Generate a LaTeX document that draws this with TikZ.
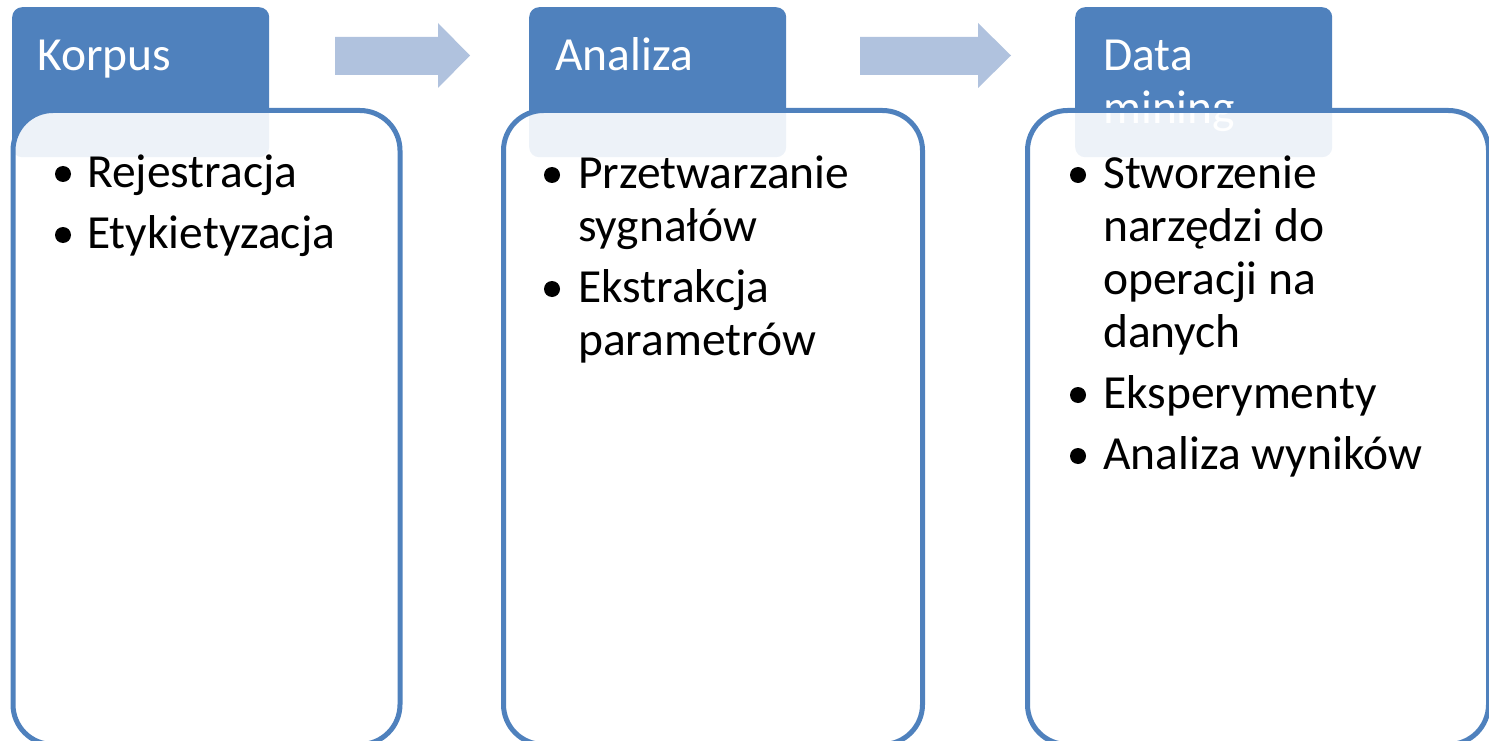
\documentclass[tikz,border=0pt]{standalone}
\usepackage{fontspec}
\setmainfont{Carlito}
\definecolor{accent}{HTML}{4F81BD}
\definecolor{flowarrow}{HTML}{B0C2DE}
\begin{document}
\begin{tikzpicture}[x=1pt,y=-1pt,
  header/.style={fill=accent, rounded corners=10pt, minimum height=150pt,
    minimum width=257pt, anchor=north west, inner sep=0pt},
  panel/.style={draw=accent, line width=5pt, fill=white, fill opacity=0.9,
    rounded corners=40pt, anchor=north west, inner sep=0pt},
  htext/.style={text=white, anchor=base west, inner sep=0pt,
    font=\fontsize{47.5}{53}\selectfont},
  item/.style={text=black, anchor=base west, inner sep=0pt,
    font=\fontsize{47.5}{53}\selectfont},
  dot/.style={circle, fill=black, inner sep=0pt, minimum size=16pt},
  flow/.style={fill=flowarrow}]
\useasboundingbox (0,0) rectangle (1489,741);

% flow arrows between the stages
\fill[flow] (335,37) -- (438,37) -- (438,23) -- (470,55.5) -- (438,88) -- (438,75) -- (335,75) -- cycle;
\fill[flow] (860,37) -- (978,37) -- (978,23) -- (1011,55.5) -- (978,88) -- (978,75) -- (860,75) -- cycle;

% stage headers
\node[header] (h1) at (12,7) {};
\node[header] (h2) at (529,7) {};
\node[header] (h3) at (1075,7) {};
\node[htext] (t1) at (37,71) {Korpus};
\node[htext] (t2) at (555,71) {Analiza};
\node[htext] (t3a) at (1103,71) {Data};
\node[htext] (t3b) at (1103,124) {mining};

% stage panels, laid over the lower part of the headers
\node[panel, minimum width=387pt, minimum height=634pt] (b1) at (10.5,108) {};
\node[panel, minimum width=419pt, minimum height=634pt] (b2) at (501,108) {};
\node[panel, minimum width=461pt, minimum height=634pt] (b3) at (1025,108) {};

% Korpus items
\node[dot] (d11) at (63,174) {};
\node[item] (i11) at (87,187) {Rejestracja};
\node[dot] (d12) at (63,235) {};
\node[item] (i12) at (87,248) {Etykietyzacja};

% Analiza items
\node[dot] (d21) at (552,175) {};
\node[item] (i21a) at (578,188) {Przetwarzanie};
\node[item] (i21b) at (578,241) {sygnałów};
\node[dot] (d22) at (552,289) {};
\node[item] (i22a) at (578,302) {Ekstrakcja};
\node[item] (i22b) at (578,355) {parametrów};

% Data mining items
\node[dot] (d31) at (1078,175) {};
\node[item] (i31a) at (1103,188) {Stworzenie};
\node[item] (i31b) at (1103,241) {narzędzi do};
\node[item] (i31c) at (1103,294) {operacji na};
\node[item] (i31d) at (1103,347) {danych};
\node[dot] (d32) at (1078,395) {};
\node[item] (i32) at (1103,408) {Eksperymenty};
\node[dot] (d33) at (1078,456) {};
\node[item] (i33) at (1103,469) {Analiza wyników};
\end{tikzpicture}
\end{document}
